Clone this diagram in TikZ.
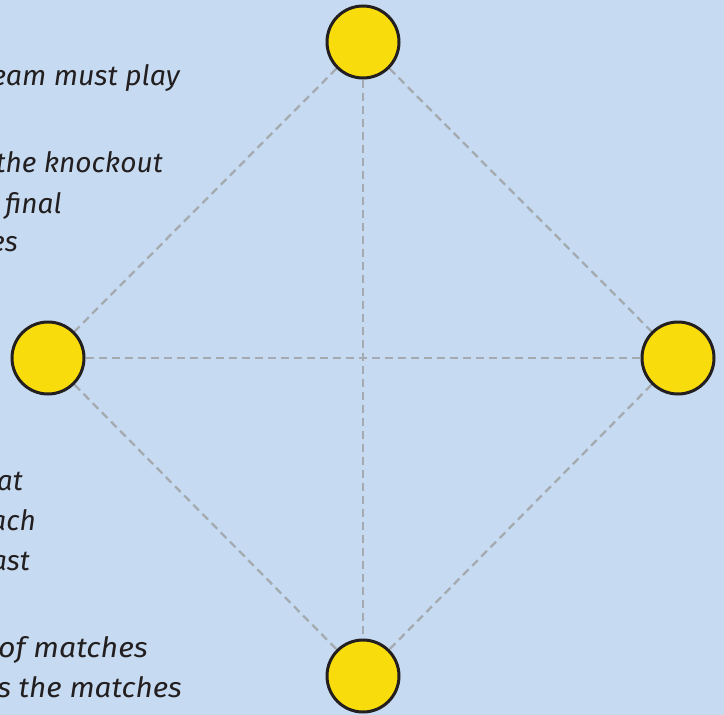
\documentclass[tikz,border=0pt]{standalone}
\usepackage{fontspec}
\setmainfont{Fira Sans}
\definecolor{bgblue}{HTML}{C6DBF1}
\definecolor{sunyel}{HTML}{F8DC0B}
\definecolor{inkdark}{HTML}{231F20}
\definecolor{dashgray}{HTML}{A5AAB0}
\pgfdeclarelayer{bglayer}
\pgfdeclarelayer{edgelayer}
\pgfsetlayers{bglayer,edgelayer,main}
\tikzset{
  vertex/.style={circle, draw=inkdark, line width=3pt, fill=sunyel, minimum size=72pt, inner sep=0pt},
  link/.style={draw=dashgray, line width=2.3pt, dash pattern=on 8pt off 5pt},
  txt/.style={inner sep=0pt, text=inkdark, font=\fontsize{28}{34}\selectfont\itshape, anchor=base east},
}
\begin{document}
\begin{tikzpicture}[x=1pt,y=-1pt]
\begin{pgfonlayer}{bglayer}
\fill[bgblue] (0,0) rectangle (724,715);
\end{pgfonlayer}
\useasboundingbox (0,0) rectangle (724,715);
\node[vertex] (t) at (363,42) {};
\node[vertex] (l) at (48,358) {};
\node[vertex] (r) at (678,358) {};
\node[vertex] (b) at (363,676) {};
\begin{pgfonlayer}{edgelayer}
\draw[link] (t) -- (l);
\draw[link] (t) -- (r);
\draw[link] (l) -- (r);
\draw[link] (t) -- (b);
\draw[link] (l) -- (b);
\draw[link] (r) -- (b);
\end{pgfonlayer}
\begin{scope}
\clip (0,0) rectangle (724,715);
\node[txt] (s1) at (180,85) {\scalebox{1.02}[1]{eam must play}};
\node[txt] (s2) at (163,172) {\scalebox{1.005}[1]{the knockout}};
\node[txt, anchor=base west] (s3) at (5,213) {final};
\node[txt] (s4) at (18,251) {es};
\node[txt] (s5) at (23,490) {at};
\node[txt] (s6) at (36,530) {ach};
\node[txt] (s7) at (30,570) {ast};
\node[txt] (s8) at (148,657) {\scalebox{1.08}[1]{of matches}};
\node[txt] (s9) at (182,697) {\scalebox{1.06}[1]{s the matches}};
\end{scope}
\end{tikzpicture}
\end{document}
